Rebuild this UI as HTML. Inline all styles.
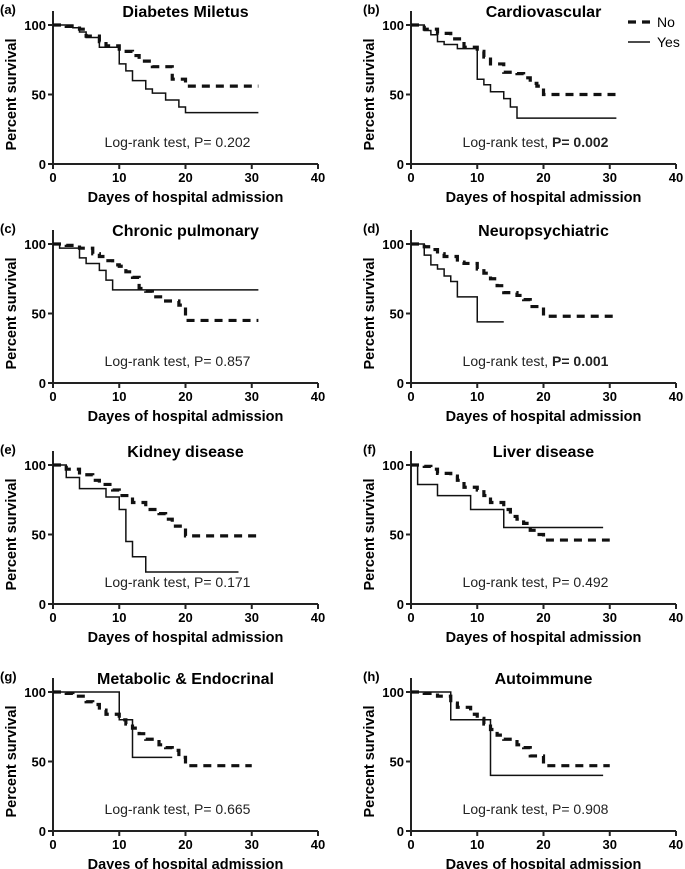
<!DOCTYPE html>
<html><head><meta charset="utf-8"><style>
body{margin:0;background:#fff;}
svg{display:block;font-family:"Liberation Sans",Arial,sans-serif;}
</style></head><body>
<svg id="fig" width="685" height="869" viewBox="0 0 685 869" xmlns="http://www.w3.org/2000/svg"></svg>
<script>
const panelLetters = ['(a)','(b)','(c)','(d)','(e)','(f)','(g)','(h)'];
const panelTitles = ['Diabetes Miletus','Cardiovascular','Chronic pulmonary','Neuropsychiatric','Kidney disease','Liver disease','Metabolic & Endocrinal','Autoimmune'];
const pValues = ['0.202','0.002','0.857','0.001','0.171','0.492','0.665','0.908'];
const pBold = [false,true,false,true,false,false,false,false];
const xTicks = [0,10,20,30,40];
const yTicks = [0,50,100];

const noTimes = [
 [0,2,4,5,7,8,10,12,13,15,18,20],
 [0,2,4,6,8,10,11,12,14,16,17,18,19,20],
 [0,2,4,6,7,8,9,10,11,12,13,14,15,17,19,20],
 [0,2,3,4,5,7,8,10,11,12,13,14,16,17,18,20],
 [0,2,4,6,7,9,10,12,14,16,17,18,20],
 [0,2,3,4,6,7,8,10,11,12,14,15,16,17,18,19,20],
 [0,2,3,5,6,7,8,10,11,12,13,14,16,17,18,19,20],
 [0,2,4,6,7,9,10,11,12,13,14,16,17,18,20]
];
const noSurv = [
 [100,99,97,92,88,85,81,78,74,70,61,56],
 [100,97,94,90,84,81,77,72,66,65,62,58,56,50],
 [100,99,97,93,91,88,85,84,80,76,68,66,62,59,56,45],
 [100,98,96,93,91,87,86,82,79,75,70,65,63,60,55,48],
 [100,97,93,89,86,82,78,73,68,65,61,56,49],
 [100,99,97,94,92,89,84,82,78,73,68,63,61,58,53,50,46],
 [100,99,97,93,91,87,84,80,77,74,70,66,62,60,58,53,47],
 [100,99,97,92,89,84,81,77,73,69,66,62,60,54,47]
];
const noEnd = [31,31,31,31,31,30,30,30];
const yesTimes = [
 [0,3,4,5,7,10,11,12,14,15,17,19,20],
 [0,2,3,4,5,7,10,11,12,14,15,16],
 [0,1,4,5,7,8,9],
 [0,2,3,4,5,6,7,10],
 [0,2,4,8,10,11,12,14],
 [0,1,4,9,14],
 [0,10,12],
 [0,6,12]
];
const yesSurv = [
 [100,98,95,91,84,72,67,60,54,51,46,41,37],
 [100,96,93,88,86,83,61,57,52,47,41,33],
 [100,97,90,86,81,74,67],
 [100,92,85,82,77,73,62,44],
 [100,91,83,77,68,45,34,23],
 [100,86,78,68,55],
 [100,80,53],
 [100,80,40]
];
const yesEnd = [31,31,31,14,28,29,18,29];

const svg = document.getElementById('fig');
const NS = 'http://www.w3.org/2000/svg';
function mk(tag, attrs, parent){
  const e = document.createElementNS(NS, tag);
  for (const k in attrs) e.setAttribute(k, attrs[k]);
  (parent||svg).appendChild(e);
  return e;
}
const colX = [53, 411];
const rowY = [25, 244, 465, 692];
const W = 265, H = 139;

for (let i=0;i<8;i++){
  const x0 = colX[i%2], y100 = rowY[Math.floor(i/2)], y0 = y100+H;
  const xs = d => x0 + d*W/40;
  const ys = v => y0 - v*H/100;
  const g = mk('g',{});
  
  

  let t = mk('text',{x:x0-53+i%2*0+0, y:y100-11,'font-size':13,'font-weight':'bold'},g);
  t.setAttribute('x', i%2? x0-48 : 0);
  t.textContent = panelLetters[i];
  
  

  t = mk('text',{x:x0+W/2, y:y100-8,'font-size':16,'font-weight':'bold','text-anchor':'middle'},g);
  t.textContent = panelTitles[i];
  
  

  // axes
  const ax = mk('path',{d:`M${x0} ${y100-14} V${y0} H${x0+W}`,stroke:'#222','stroke-width':2,fill:'none'},g);
  
  
  yTicks.forEach(v=>{
    mk('line',{x1:x0-5,x2:x0,y1:ys(v),y2:ys(v),stroke:'#222','stroke-width':2},g);
    const tl = mk('text',{x:x0-7,y:ys(v)+5,'font-size':13,'font-weight':'bold','text-anchor':'end'},g);
    tl.textContent = v;
    
    
  });
  xTicks.forEach(v=>{
    mk('line',{x1:xs(v),x2:xs(v),y1:y0,y2:y0+5,stroke:'#222','stroke-width':2},g);
    const tl = mk('text',{x:xs(v),y:y0+18,'font-size':13,'font-weight':'bold','text-anchor':'middle'},g);
    tl.textContent = v;
    
    
  });
  t = mk('text',{x:x0+W/2,y:y0+38,'font-size':14.5,'font-weight':'bold','text-anchor':'middle'},g);
  t.textContent = 'Dayes of hospital admission';
  
  
  const yx = x0-37, yc = (y100+y0)/2;
  t = mk('text',{x:yx,y:yc,'font-size':14.5,'font-weight':'bold','text-anchor':'middle',transform:`rotate(-90 ${yx} ${yc})`},g);
  t.textContent = 'Percent survival';
  
  

  t = mk('text',{x:x0+W/2-8,y:y0-17,'font-size':14,'text-anchor':'middle',fill:'#222'},g);
  t.appendChild(document.createTextNode('Log-rank test, '));
  const ts = mk('tspan',{'font-weight':pBold[i]?'bold':'normal'},t);
  ts.textContent = 'P= '+pValues[i];
  
  

  function stepPath(T,S,end){
    let d = `M${xs(T[0])} ${ys(S[0])}`;
    for (let k=1;k<T.length;k++){ d += ` H${xs(T[k])} V${ys(S[k])}`; }
    d += ` H${xs(end)}`;
    return d;
  }
  const pn = mk('path',{d:stepPath(noTimes[i],noSurv[i],noEnd[i]),stroke:'#111','stroke-width':3.2,'stroke-dasharray':'8 6',fill:'none'},g);
  
  
  const py = mk('path',{d:stepPath(yesTimes[i],yesSurv[i],yesEnd[i]),stroke:'#111','stroke-width':1.5,fill:'none'},g);
  
  
}
// legend
const lg = mk('g',{});


mk('line',{x1:628,x2:650,y1:22,y2:22,stroke:'#111','stroke-width':3.2,'stroke-dasharray':'8 6'},lg);
let lt = mk('text',{x:657,y:27,'font-size':14},lg); lt.textContent='No';


mk('line',{x1:628,x2:650,y1:42,y2:42,stroke:'#111','stroke-width':1.5},lg);
lt = mk('text',{x:657,y:47,'font-size':14},lg); lt.textContent='Yes';


</script>
</body></html>
